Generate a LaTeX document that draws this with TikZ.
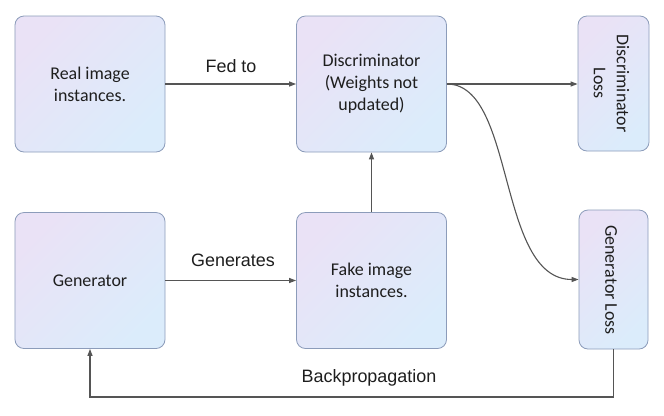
\documentclass[tikz,border=0pt]{standalone}
\usepackage{fontspec}
\setmainfont{Carlito}
\newfontfamily\labelfont{Liberation Sans}
\usetikzlibrary{arrows.meta}
\definecolor{boxA}{RGB}{234,226,246}
\definecolor{boxB}{RGB}{219,236,251}
\definecolor{boxline}{RGB}{140,156,186}
\definecolor{arrowc}{RGB}{85,85,85}
\definecolor{txt}{RGB}{30,30,30}
\begin{document}
\begin{tikzpicture}[x=1bp,y=-1bp,
  box/.style={draw=boxline, line width=0.8bp, rounded corners=9bp,
    top color=boxA, bottom color=boxB, shading angle=45,
    align=center, text=txt, inner sep=0pt,
    font=\fontsize{18}{22}\selectfont},
  bigbox/.style={box, minimum width=150bp, minimum height=136bp},
  vtext/.style={rotate=-90, align=center, text=txt, inner sep=0pt,
    font=\fontsize{18}{23}\selectfont},
  lbl/.style={text=txt, inner sep=0pt, font=\labelfont\fontsize{18}{22}\selectfont},
  conn/.style={draw=arrowc, line width=1.1bp,
    -{Triangle[length=7bp,width=5bp]}}]
\fill[white] (0,0) rectangle (664,415);
\useasboundingbox (0,0) rectangle (664,415);

\node[bigbox] (real) at (90,84) {Real image\\instances.};
\node[bigbox] (disc) at (371.5,84) {Discriminator\\(Weights not\\updated)};
\node[box, minimum width=71bp, minimum height=135bp] (dl) at (613.5,83.5) {};
\node[vtext] (dltxt) at (611.5,83.5) {Discriminator\\Loss};

\node[bigbox] (gen) at (90,280.5) {Generator};
\node[bigbox] (fake) at (371.5,280.5) {Fake image\\instances.};
\node[box, minimum width=69bp, minimum height=139bp] (gl) at (613.5,279.5) {};
\node[vtext] (gltxt) at (611,280) {Generator Loss};

\node[lbl] (fedto) at (231,66) {Fed to};
\node[lbl] (gens) at (233,260) {Generates};
\node[lbl] (bpl) at (369,378) {Backpropagation};

\coordinate (bp) at (0,397);

\draw[conn] (real.east) -- (disc.west);
\draw[conn] (disc.east) -- (dl.west |- disc.east);
\draw[conn] (disc.east) .. controls +(69,0) and +(-82,0) .. (gl.west);
\draw[conn] (fake.north) -- (disc.south);
\draw[conn] (gen.east) -- (fake.west);
\draw[conn] (gl.south) -- (gl.south |- bp) -| (gen.south);
\end{tikzpicture}
\end{document}
